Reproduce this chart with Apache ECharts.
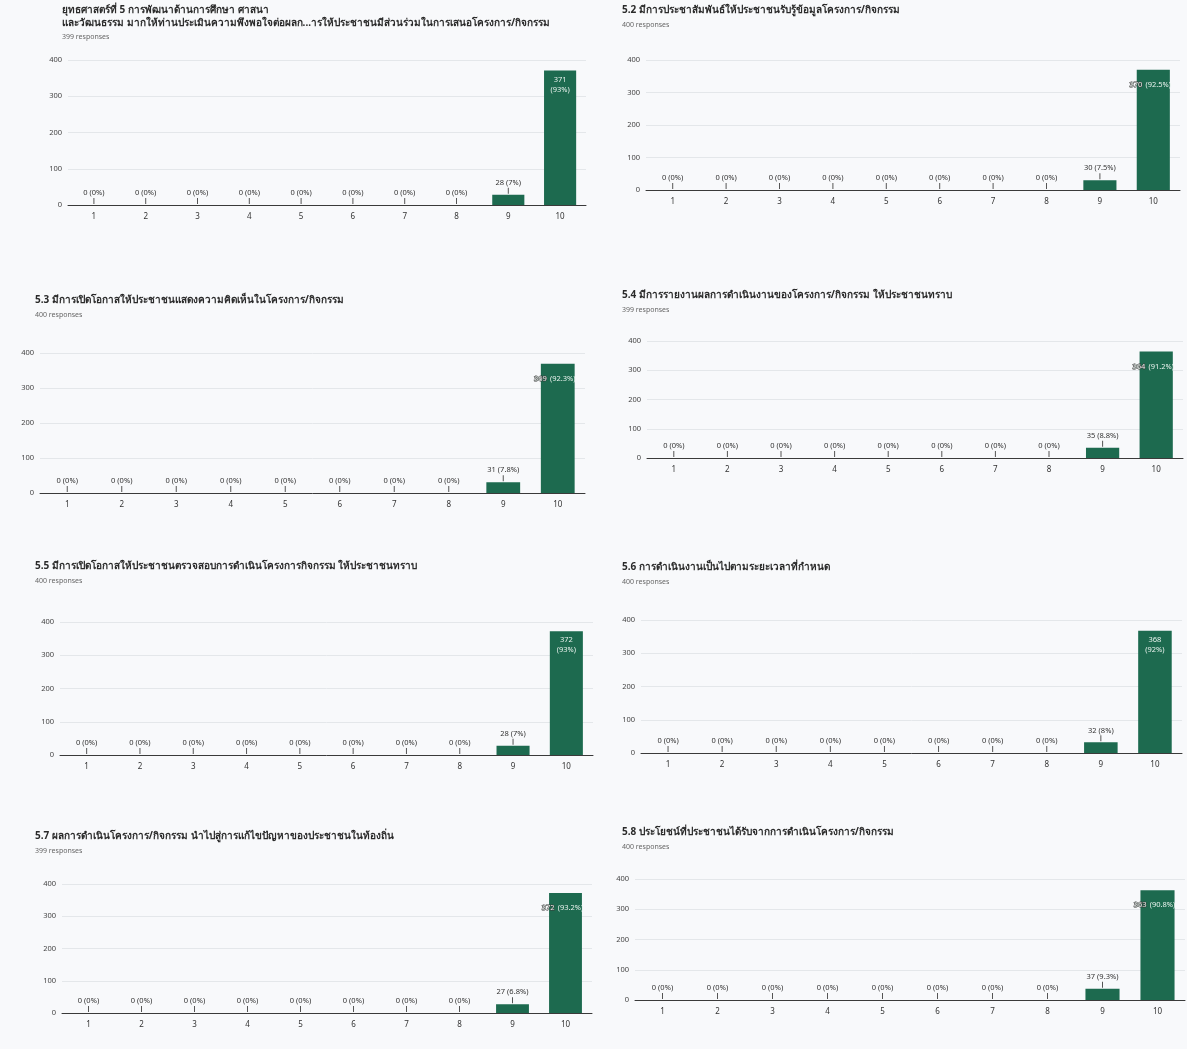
<!DOCTYPE html>
<html>
<head>
<meta charset="utf-8">
<title>ยุทธศาสตร์ที่ 5</title>
<script src="https://cdn.jsdelivr.net/npm/echarts@6/dist/echarts.min.js"></script>
<style>
	html,body{margin:0;padding:0;background:#f8f9fb;}
	#main{width:1187px;height:1049px;}
</style>
</head>
<body>
<div id="main"></div>
<script>
	// ระดับคะแนน 1-10
	const categories = ['1','2','3','4','5','6','7','8','9','10'];

	const titles = [
		'ยุทธศาสตร์ที่ 5 การพัฒนาด้านการศึกษา ศาสนา\nและวัฒนธรรม มากให้ท่านประเมินความพึงพอใจต่อผลก...ารให้ประชาชนมีส่วนร่วมในการเสนอโครงการ/กิจกรรม',
		'5.2 มีการประชาสัมพันธ์ให้ประชาชนรับรู้ข้อมูลโครงการ/กิจกรรม',
		'5.3 มีการเปิดโอกาสให้ประชาชนแสดงความคิดเห็นในโครงการ/กิจกรรม',
		'5.4 มีการรายงานผลการดำเนินงานของโครงการ/กิจกรรม ให้ประชาชนทราบ',
		'5.5 มีการเปิดโอกาสให้ประชาชนตรวจสอบการดำเนินโครงการกิจกรรม ให้ประชาชนทราบ',
		'5.6 การดำเนินงานเป็นไปตามระยะเวลาที่กำหนด',
		'5.7 ผลการดำเนินโครงการ/กิจกรรม นำไปสู่การแก้ไขปัญหาของประชาชนในท้องถิ่น',
		'5.8 ประโยชน์ที่ประชาชนได้รับจากการดำเนินโครงการ/กิจกรรม'
	];
	const responseCounts = [399, 400, 400, 399, 400, 400, 399, 400];

	const q1Values = [0,0,0,0,0,0,0,0,28,371];
	const q2Values = [0,0,0,0,0,0,0,0,30,370];
	const q3Values = [0,0,0,0,0,0,0,0,31,369];
	const q4Values = [0,0,0,0,0,0,0,0,35,364];
	const q5Values = [0,0,0,0,0,0,0,0,28,372];
	const q6Values = [0,0,0,0,0,0,0,0,32,368];
	const q7Values = [0,0,0,0,0,0,0,0,27,372];
	const q8Values = [0,0,0,0,0,0,0,0,37,363];

	const q1Percents = ['0%','0%','0%','0%','0%','0%','0%','0%','7%','93%'];
	const q2Percents = ['0%','0%','0%','0%','0%','0%','0%','0%','7.5%','92.5%'];
	const q3Percents = ['0%','0%','0%','0%','0%','0%','0%','0%','7.8%','92.3%'];
	const q4Percents = ['0%','0%','0%','0%','0%','0%','0%','0%','8.8%','91.2%'];
	const q5Percents = ['0%','0%','0%','0%','0%','0%','0%','0%','7%','93%'];
	const q6Percents = ['0%','0%','0%','0%','0%','0%','0%','0%','8%','92%'];
	const q7Percents = ['0%','0%','0%','0%','0%','0%','0%','0%','6.8%','93.2%'];
	const q8Percents = ['0%','0%','0%','0%','0%','0%','0%','0%','9.3%','90.8%'];

	const yTicks = [0, 100, 200, 300, 400];

	const allValues = [q1Values,q2Values,q3Values,q4Values,q5Values,q6Values,q7Values,q8Values];
	const allPercents = [q1Percents,q2Percents,q3Percents,q4Percents,q5Percents,q6Percents,q7Percents,q8Percents];

	// ตำแหน่งของแต่ละกราฟบนหน้า
	const panels = [
		{tx: 62,  ty: 4,   gl: 68,  gt: 60,  gw: 518, gh: 145, twoLine: true},
		{tx: 622, ty: 4,   gl: 646, gt: 60,  gw: 534, gh: 130, twoLine: false},
		{tx: 35,  ty: 294, gl: 40,  gt: 353, gw: 545, gh: 140, twoLine: false},
		{tx: 622, ty: 289, gl: 647, gt: 341, gw: 536, gh: 117, twoLine: false},
		{tx: 35,  ty: 560, gl: 60,  gt: 622, gw: 533, gh: 133, twoLine: true},
		{tx: 622, ty: 561, gl: 641, gt: 620, gw: 541, gh: 133, twoLine: true},
		{tx: 35,  ty: 830, gl: 62,  gt: 884, gw: 530, gh: 129, twoLine: false},
		{tx: 622, ty: 826, gl: 635, gt: 879, gw: 550, gh: 121, twoLine: false}
	];

	const fontFamily = '"Noto Sans", "DejaVu Sans", sans-serif';
	const barColor = '#1d6a4f';

	const myChart = echarts.init(document.getElementById('main'));

	const title = [], grid = [], xAxis = [], yAxis = [], series = [];

	panels.forEach((p, i) => {
		const twoRows = titles[i].indexOf('\n') >= 0;
		title.push({
			left: p.tx,
			top: p.ty,
			padding: 0,
			itemGap: twoRows ? 3 : 4,
			text: titles[i],
			subtext: responseCounts[i] + ' responses',
			textStyle: {fontSize: 10, fontWeight: 'bold', color: '#2a2a2a', lineHeight: 13, fontFamily: fontFamily},
			subtextStyle: {fontSize: 7, color: '#666', fontFamily: fontFamily}
		});
		grid.push({left: p.gl, top: p.gt, width: p.gw, height: p.gh});
		xAxis.push({
			type: 'category',
			gridIndex: i,
			data: categories,
			axisTick: {show: false},
			axisLine: {lineStyle: {color: '#3a3a3a', width: 1}},
			axisLabel: {fontSize: 8, color: '#333', margin: 8, fontFamily: fontFamily}
		});
		yAxis.push({
			type: 'value',
			gridIndex: i,
			min: yTicks[0],
			max: yTicks[yTicks.length - 1],
			interval: 100,
			axisLine: {show: false},
			axisTick: {show: false},
			splitLine: {lineStyle: {color: '#e4e7ea', width: 1}},
			axisLabel: {fontSize: 7.5, color: '#444', margin: 6, fontFamily: fontFamily}
		});

		const vals = allValues[i];
		const pcts = allPercents[i];
		const data = vals.map((v, k) => {
			if (k === vals.length - 1) {
				// แท่งสูงสุด: ป้ายอยู่ในแท่ง
				if (p.twoLine) {
					return {value: v, label: {
						position: 'insideTop', distance: 4,
						formatter: v + '\n(' + pcts[k] + ')',
						color: '#e8f2ed', fontSize: 7.5, lineHeight: 10, align: 'center'
					}};
				}
				return {value: v, label: {
					position: 'insideTop', distance: 9, offset: [-3, 0],
					formatter: '{n|' + v + '} {p|(' + pcts[k] + ')}',
					rich: {
						n: {color: '#e8f2ed', textBorderColor: '#3a3a3a', textBorderWidth: 1, fontSize: 7.5, fontFamily: fontFamily},
						p: {color: '#e8f2ed', fontSize: 7.5, fontFamily: fontFamily}
					}
				}};
			}
			return v;
		});

		series.push({
			type: 'bar',
			xAxisIndex: i,
			yAxisIndex: i,
			data: data,
			barCategoryGap: '38%',
			itemStyle: {color: barColor},
			label: {
				show: true,
				position: 'top',
				distance: 1,
				fontFamily: fontFamily,
				formatter: function(params) {
					return '{v|' + params.value + ' (' + pcts[params.dataIndex] + ')}\n{t|}';
				},
				rich: {
					v: {fontSize: 7.5, color: '#333', lineHeight: 10, align: 'center', fontFamily: fontFamily},
					t: {width: 1, height: 6, backgroundColor: '#555', align: 'center'}
				}
			}
		});
	});

	const chartOption = {
		backgroundColor: '#f8f9fb',
		animation: false,
		title: title,
		grid: grid,
		xAxis: xAxis,
		yAxis: yAxis,
		series: series
	};
	myChart.setOption(chartOption);
</script>
</body>
</html>
